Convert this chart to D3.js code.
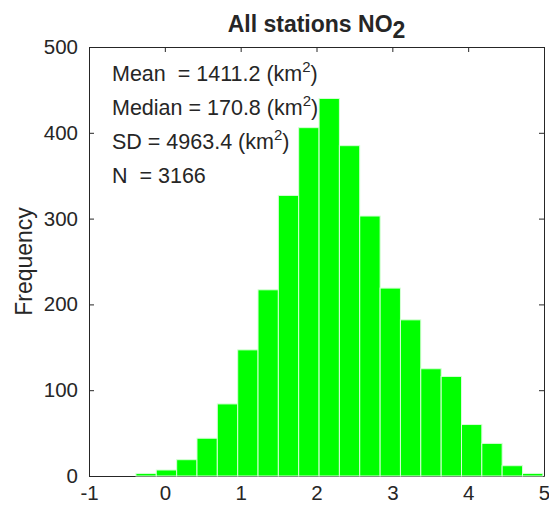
<!DOCTYPE html>
<html>
<head>
<meta charset="utf-8">
<script src="https://cdn.jsdelivr.net/npm/d3@7/dist/d3.min.js"></script>
<style>
  html, body { margin: 0; padding: 0; background: #fff; }
  svg { display: block; }
  text { font-family: "Liberation Sans", Arial, Helvetica, sans-serif; fill: #262626; white-space: pre; }
</style>
</head>
<body>
<svg id="chart" width="549" height="514"></svg>
<script>
// ---- data ----
const binEdges = [-0.381, -0.113, 0.156, 0.424, 0.692, 0.961, 1.229, 1.497, 1.765, 2.034,
                  2.302, 2.570, 2.839, 3.107, 3.375, 3.644, 3.912, 4.180, 4.448, 4.717, 4.985];
const counts = [3, 7, 19, 44, 84, 147, 217, 327, 406, 440,
                385, 303, 219, 182, 125, 116, 60, 38, 12, 3];
const xTicks = [-1, 0, 1, 2, 3, 4, 5];
const yTicks = [0, 100, 200, 300, 400, 500];
const titleMain = "All stations NO";
const titleSub = "2";
const statLines = [
  { label: "Mean  = 1411.2 (km", sup: "2", tail: ")" },
  { label: "Median = 170.8 (km", sup: "2", tail: ")" },
  { label: "SD = 4963.4 (km", sup: "2", tail: ")" },
  { label: "N  = 3166", sup: "", tail: "" }
];
const yLabel = "Frequency";

// ---- layout ----
const svg = d3.select("#chart");
const L = 89, R = 544, T = 47, B = 476;
const x = d3.scaleLinear().domain([-1, 5]).range([L, R]);
const y = d3.scaleLinear().domain([0, 500]).range([B, T]);
const axisColor = "#262626";
const fmt = d => String(d);  // plain hyphen-minus like the reference

const bins = counts.map((c, i) => ({ x0: binEdges[i], x1: binEdges[i + 1], n: c }));

// axes (drawn beneath bars like MATLAB's default layer)
const gAx = svg.append("g");
const xb = gAx.append("g").attr("transform", `translate(0,${B})`)
  .call(d3.axisBottom(x).tickValues(xTicks).tickSizeInner(-5).tickSizeOuter(0).tickPadding(9)
        .tickFormat(fmt));
gAx.append("g").attr("transform", `translate(0,${T})`)
  .call(d3.axisTop(x).tickValues(xTicks).tickSizeInner(-5).tickSizeOuter(0).tickFormat(""));
gAx.append("g").attr("transform", `translate(${L},0)`)
  .call(d3.axisLeft(y).tickValues(yTicks).tickSizeInner(-5).tickSizeOuter(0).tickPadding(11)
        .tickFormat(fmt));
gAx.append("g").attr("transform", `translate(${R},0)`)
  .call(d3.axisRight(y).tickValues(yTicks).tickSizeInner(-5).tickSizeOuter(0).tickFormat(""));

gAx.selectAll(".domain").attr("stroke", axisColor).attr("stroke-width", 1);
gAx.selectAll(".tick line").attr("stroke", axisColor).attr("stroke-width", 1);
gAx.selectAll(".tick text").attr("fill", axisColor).style("font-size", "20.5px")
  .style("font-family", "'Liberation Sans', Arial, sans-serif");
xb.selectAll(".tick text").attr("dy", "0.71em");

// bars
svg.append("g").selectAll("rect").data(bins).join("rect")
  .attr("x", d => x(d.x0))
  .attr("width", d => x(d.x1) - x(d.x0))
  .attr("y", d => y(d.n))
  .attr("height", d => y(0) - y(d.n))
  .attr("fill", "#00ff00")
  .attr("stroke", "#d6ffd6")
  .attr("stroke-width", 1);

// title
const title = svg.append("text")
  .attr("x", (L + R) / 2).attr("y", 31.5)
  .attr("text-anchor", "middle")
  .style("font-size", "23px").style("font-weight", "bold").attr("fill", "#000");
title.append("tspan").text(titleMain);
title.append("tspan").attr("dy", 6).text(titleSub);

// stats text
const statY = [80.7, 114.5, 148.5, 182.7];
statLines.forEach((s, i) => {
  const t = svg.append("text").attr("x", 112).attr("y", statY[i])
    .attr("xml:space", "preserve")
    .style("font-size", "21.5px").attr("fill", "#000");
  t.append("tspan").text(s.label);
  if (s.sup) {
    t.append("tspan").attr("dy", -9).style("font-size", "15px").text(s.sup);
    t.append("tspan").attr("dy", 9).text(s.tail);
  }
});

// y label
svg.append("text")
  .attr("transform", `translate(24,${(T + B) / 2}) rotate(-90)`)
  .attr("text-anchor", "middle")
  .attr("dominant-baseline", "central")
  .style("font-size", "23px")
  .attr("fill", axisColor)
  .text(yLabel);
</script>
</body>
</html>
